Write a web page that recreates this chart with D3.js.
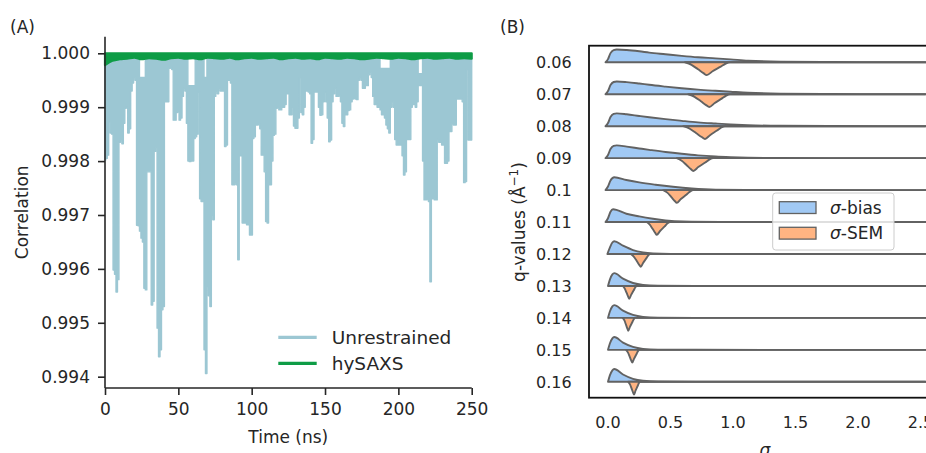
<!DOCTYPE html>
<html>
<head>
<meta charset="utf-8">
<script src="https://cdn.jsdelivr.net/npm/d3@7"></script>
<style>
  body { margin: 0; background: #fff; }
  svg { display: block; font-family: "DejaVu Sans", sans-serif; }
</style>
</head>
<body>
<script>
// ---------- panel A data ----------
// lower envelope of the unrestrained trace, one value per ns (0..250)
var unrestrainedLow = [
  0.99802, 0.99805, 0.99811, 0.99873, 0.99852, 0.99850, 0.99598, 0.99590, 0.99557, 0.99580,
  0.99835, 0.99840, 0.99832, 0.99870, 0.99898, 0.99900, 0.99852, 0.99860, 0.99930, 0.99945,
  0.99955, 0.99950, 0.99681, 0.99680, 0.99670, 0.99657, 0.99650, 0.99564, 0.99561, 0.99780,
  0.99780, 0.99780, 0.99533, 0.99540, 0.99818, 0.99825, 0.99490, 0.99437, 0.99450, 0.99524,
  0.99530, 0.99910, 0.99910, 0.99910, 0.99972, 0.99975, 0.99970, 0.99876, 0.99876, 0.99890,
  0.99892, 0.99876, 0.99880, 0.99920, 0.99935, 0.99930, 0.99870, 0.99800, 0.99799, 0.99800,
  0.99800, 0.99842, 0.99845, 0.99850, 0.99928, 0.99730, 0.99725, 0.99725, 0.99450, 0.99406,
  0.99567, 0.99550, 0.99530, 0.99700, 0.99691, 0.99920, 0.99930, 0.99925, 0.99935, 0.99930,
  0.99930, 0.99930, 0.99827, 0.99830, 0.99950, 0.99950, 0.99945, 0.99756, 0.99756, 0.99760,
  0.99756, 0.99617, 0.99810, 0.99810, 0.99685, 0.99685, 0.99685, 0.99682, 0.99682, 0.99663,
  0.99663, 0.99842, 0.99845, 0.99867, 0.99867, 0.99870, 0.99860, 0.99811, 0.99811, 0.99780,
  0.99688, 0.99685, 0.99756, 0.99756, 0.99800, 0.99848, 0.99850, 0.99898, 0.99900, 0.99895,
  0.99895, 0.99900, 0.99900, 0.99905, 0.99925, 0.99925, 0.99886, 0.99886, 0.99900, 0.99865,
  0.99861, 0.99861, 0.99880, 0.99955, 0.99890, 0.99886, 0.99900, 0.99930, 0.99930, 0.99928,
  0.99925, 0.99833, 0.99840, 0.99928, 0.99928, 0.99928, 0.99900, 0.99885, 0.99886, 0.99910,
  0.99928, 0.99910, 0.99880, 0.99836, 0.99839, 0.99910, 0.99925, 0.99935, 0.99920, 0.99920,
  0.99922, 0.99910, 0.99870, 0.99864, 0.99886, 0.99886, 0.99894, 0.99895, 0.99910, 0.99915,
  0.99917, 0.99915, 0.99914, 0.99950, 0.99955, 0.99950, 0.99935, 0.99935, 0.99940, 0.99940,
  0.99960, 0.99965, 0.99955, 0.99920, 0.99905, 0.99905, 0.99900, 0.99900, 0.99895, 0.99886,
  0.99886, 0.99880, 0.99867, 0.99860, 0.99852, 0.99900, 0.99910, 0.99900, 0.99840, 0.99830,
  0.99830, 0.99830, 0.99830, 0.99810, 0.99774, 0.99780, 0.99840, 0.99840, 0.99840, 0.99900,
  0.99905, 0.99905, 0.99900, 0.99910, 0.99940, 0.99940, 0.99940, 0.99800, 0.99728, 0.99728,
  0.99730, 0.99725, 0.99576, 0.99730, 0.99730, 0.99728, 0.99728, 0.99840, 0.99835, 0.99835,
  0.99830, 0.99830, 0.99796, 0.99796, 0.99800, 0.99855, 0.99855, 0.99870, 0.99867, 0.99867,
  0.99915, 0.99915, 0.99915, 0.99915, 0.99910, 0.99760, 0.99762, 0.99970, 0.99839, 0.99839, 0.99839
];
var unrestrainedTop = 0.99991;
// stretches where the upper edge of the trace drops: [from ns, to ns, value]
var unrestrainedGaps = [[24, 27, 0.99955], [57, 61, 0.99940], [68, 69, 0.99955], [188, 194, 0.99972], [214, 216, 0.99962]];

// hySAXS lower envelope, one value per 5 ns
var hysaxsLow = [
  0.99978, 0.99986, 0.99989, 0.99990, 0.99992, 0.99989, 0.99991, 0.99990, 0.99988, 0.99991,
  0.99992, 0.99990, 0.99991, 0.99989, 0.99992, 0.99991, 0.99990, 0.99992, 0.99989, 0.99991,
  0.99992, 0.99990, 0.99991, 0.99992, 0.99989, 0.99991, 0.99992, 0.99990, 0.99991, 0.99989,
  0.99992, 0.99991, 0.99990, 0.99992, 0.99991, 0.99989, 0.99990, 0.99992, 0.99991, 0.99990,
  0.99992, 0.99991, 0.99989, 0.99991, 0.99992, 0.99990, 0.99991, 0.99992, 0.99990, 0.99991, 0.99990
];
var hysaxsTop = 1.00000;

var timeTicks = [0, 50, 100, 150, 200, 250];
var corrTicks = [0.994, 0.995, 0.996, 0.997, 0.998, 0.999, 1.000];
var seriesNames = ["Unrestrained", "hySAXS"];

// ---------- panel B data ----------
var qLabels = ["0.06", "0.07", "0.08", "0.09", "0.1", "0.11", "0.12", "0.13", "0.14", "0.15", "0.16"];
// sigma-bias density profiles [sigma, relative density]
var biasProfiles = [
  [[-0.02,0],[0,0.25],[0.02,0.72],[0.045,0.96],[0.07,1],[0.15,0.96],[0.25,0.86],[0.33,0.76],[0.46,0.63],[0.59,0.5],[0.72,0.39],[0.86,0.31],[0.98,0.23],[1.12,0.13],[1.38,0.05],[1.8,0.02],[2.2,0.008],[2.54,0]],
  [[-0.02,0],[0,0.25],[0.02,0.72],[0.045,0.96],[0.07,1],[0.15,0.95],[0.25,0.84],[0.33,0.74],[0.46,0.6],[0.59,0.47],[0.72,0.36],[0.86,0.27],[0.98,0.2],[1.12,0.12],[1.38,0.05],[1.8,0.02],[2.2,0.008],[2.54,0]],
  [[-0.02,0],[0,0.25],[0.02,0.72],[0.045,0.96],[0.07,1],[0.15,0.93],[0.25,0.8],[0.33,0.7],[0.46,0.55],[0.59,0.42],[0.72,0.3],[0.86,0.21],[0.98,0.14],[1.12,0.08],[1.38,0.03],[1.8,0.01],[2.54,0]],
  [[-0.02,0],[0,0.25],[0.02,0.72],[0.045,0.96],[0.07,1],[0.15,0.9],[0.25,0.76],[0.33,0.65],[0.46,0.48],[0.59,0.34],[0.72,0.22],[0.86,0.13],[0.98,0.08],[1.12,0.04],[1.38,0.015],[1.8,0.005],[2.54,0]],
  [[-0.02,0],[0,0.28],[0.02,0.75],[0.05,1],[0.147,0.79],[0.25,0.6],[0.38,0.42],[0.52,0.26],[0.67,0.13],[0.86,0.04],[1.2,0.01],[1.6,0.003],[2.54,0]],
  [[-0.02,0],[0,0.3],[0.02,0.8],[0.04,1],[0.147,0.65],[0.25,0.44],[0.36,0.26],[0.46,0.13],[0.6,0.04],[0.9,0.01],[1.4,0.002],[2.54,0]],
  [[-0.005,0],[0.015,0.5],[0.035,0.9],[0.05,1],[0.12,0.65],[0.2,0.31],[0.28,0.13],[0.36,0.05],[0.5,0.01],[0.9,0.002],[2.54,0]],
  [[0,0],[0.015,0.5],[0.035,0.9],[0.05,1],[0.12,0.57],[0.2,0.23],[0.28,0.08],[0.4,0.02],[0.7,0.003],[2.54,0]],
  [[0,0],[0.015,0.5],[0.035,0.9],[0.05,1],[0.12,0.57],[0.2,0.23],[0.28,0.08],[0.4,0.02],[0.7,0.003],[2.54,0]],
  [[0,0],[0.015,0.5],[0.035,0.9],[0.05,1],[0.12,0.57],[0.2,0.23],[0.28,0.08],[0.4,0.02],[0.7,0.003],[2.54,0]],
  [[0,0],[0.015,0.5],[0.035,0.9],[0.05,1],[0.12,0.57],[0.2,0.23],[0.28,0.08],[0.4,0.02],[0.7,0.003],[2.54,0]]
];
// sigma-SEM: left foot, peak, right foot per q
var semLeft  = [0.616, 0.642, 0.602, 0.55, 0.442, 0.31, 0.182, 0.118, 0.118, 0.144, 0.162];
var semPeak  = [0.79, 0.81, 0.776, 0.682, 0.55, 0.39, 0.262, 0.17, 0.162, 0.194, 0.208];
var semRight = [0.976, 0.976, 0.936, 0.842, 0.682, 0.496, 0.336, 0.23, 0.216, 0.25, 0.256];
// common SEM outline: [fraction of left/right span, relative density]
var semShape = [[-1,0],[-0.7,0.2],[-0.4,0.55],[-0.15,0.85],[0,1],[0.25,0.7],[0.6,0.34],[0.8,0.12],[1,0]];
var sigmaTicks = [0.0, 0.5, 1.0, 1.5, 2.0, 2.5];

var W = 926, H = 453;
var ink = "#262626";
var blueLine = "#9cc7d3", greenLine = "#0e9c46";
var biasFill = "#a1c9f4", semFill = "#ffb482", violinEdge = "#626262";

var svg = d3.select("body").append("svg").attr("width", W).attr("height", H);

// ================= panel A =================
var x = d3.scaleLinear().domain([0, 250]).range([105, 471.7]);
var y = d3.scaleLinear().domain([0.99379, 1.000308]).range([388, 36.7]);

var gA = svg.append("g");

var unrestrainedHigh = unrestrainedLow.map(function(v, i) {
  var h = unrestrainedTop;
  unrestrainedGaps.forEach(function(g) { if (i >= g[0] && i <= g[1]) h = g[2]; });
  return h;
});

// dense trace: drawn as its envelope, with step edges like the packed line
var areaU = d3.area()
  .x(function(d, i) { return x(i); })
  .y0(function(d, i) { return y(unrestrainedHigh[i]); })
  .y1(function(d) { return y(d); })
  .curve(d3.curveStep);

gA.append("path")
  .datum(unrestrainedLow)
  .attr("d", areaU)
  .attr("fill", blueLine)
  .attr("stroke", blueLine)
  .attr("stroke-width", 1.4)
  .attr("stroke-linejoin", "round");

var areaH = d3.area()
  .x(function(d, i) { return x(i * 5); })
  .y0(y(hysaxsTop))
  .y1(function(d) { return y(d); })
  .curve(d3.curveMonotoneX);

gA.append("path")
  .datum(hysaxsLow)
  .attr("d", areaH)
  .attr("fill", greenLine)
  .attr("stroke", greenLine)
  .attr("stroke-width", 2.2)
  .attr("stroke-linejoin", "round");

// axes
var xAxis = d3.axisBottom(x).tickValues(timeTicks).tickSize(7).tickPadding(8).tickFormat(d3.format("d"));
var yAxis = d3.axisLeft(y).tickValues(corrTicks).tickSize(7).tickPadding(8).tickFormat(d3.format(".3f"));

var gx = gA.append("g").attr("transform", "translate(0,388)").call(xAxis);
var gy = gA.append("g").attr("transform", "translate(105,0)").call(yAxis);
[gx, gy].forEach(function(g) {
  g.select(".domain").attr("stroke", ink).attr("stroke-width", 1.6);
  g.selectAll(".tick line").attr("stroke", ink).attr("stroke-width", 1.6);
  g.selectAll(".tick text").attr("fill", ink).style("font-size", "17px").style("font-family", "DejaVu Sans");
});
gx.select(".domain").attr("d", "M105,0H471.7");
gy.select(".domain").attr("d", "M0,36.7V388");

gA.append("text").attr("x", 288.3).attr("y", 443).attr("text-anchor", "middle")
  .attr("fill", ink).style("font-size", "17px").text("Time (ns)");
gA.append("text").attr("transform", "translate(28,212.3) rotate(-90)").attr("text-anchor", "middle")
  .attr("fill", ink).style("font-size", "17px").text("Correlation");
gA.append("text").attr("x", 10).attr("y", 33).attr("fill", ink).style("font-size", "17px").text("(A)");

// legend A
var legA = gA.append("g");
seriesNames.forEach(function(name, i) {
  var ly = 337.3 + i * 26;
  legA.append("line").attr("x1", 278.3).attr("x2", 316.7).attr("y1", ly).attr("y2", ly)
    .attr("stroke", i === 0 ? blueLine : greenLine).attr("stroke-width", 3.2);
  legA.append("text").attr("x", 331.7).attr("y", ly).attr("dy", "0.36em")
    .attr("fill", ink).style("font-size", "18.5px").text(name);
});

// ================= panel B =================
var gB = svg.append("g");
var sx = d3.scaleLinear().domain([0, 1]).range([608, 733]);
var rows = d3.scalePoint().domain(qLabels).range([62.3, 381.8]);
var hw = rows.step() * 0.4;

gB.append("rect").attr("x", 589).attr("y", 45.7).attr("width", 360).attr("height", 352)
  .attr("fill", "none").attr("stroke", "#111").attr("stroke-width", 1.8);

var halfArea = function(base, sign) {
  return d3.area()
    .x(function(d) { return sx(d[0]); })
    .y0(base)
    .y1(function(d) { return base + sign * d[1] * hw; })
    .curve(d3.curveMonotoneX);
};

qLabels.forEach(function(q, i) {
  var base = rows(q);
  gB.append("path").datum(biasProfiles[i]).attr("d", halfArea(base, -1))
    .attr("fill", biasFill).attr("stroke", violinEdge).attr("stroke-width", 1.9).attr("stroke-linejoin", "round");
  var sem = semShape.map(function(s) {
    var sg = s[0] < 0 ? semPeak[i] + s[0] * (semPeak[i] - semLeft[i]) : semPeak[i] + s[0] * (semRight[i] - semPeak[i]);
    return [sg, s[1]];
  });
  // the flat tail of the outline continues out to the right edge
  sem.push([2.54, 0]);
  gB.append("path").datum(sem).attr("d", halfArea(base, 1))
    .attr("fill", semFill).attr("stroke", violinEdge).attr("stroke-width", 1.9).attr("stroke-linejoin", "round");
});

// tick labels (no tick marks)
qLabels.forEach(function(q) {
  gB.append("text").attr("x", 571.7).attr("y", rows(q)).attr("dy", "0.36em").attr("text-anchor", "end")
    .attr("fill", ink).style("font-size", "16px").text(q);
});
sigmaTicks.forEach(function(s) {
  gB.append("text").attr("x", sx(s)).attr("y", 428).attr("text-anchor", "middle")
    .attr("fill", ink).style("font-size", "16px").text(s.toFixed(1));
});

gB.append("text").attr("x", 765).attr("y", 456).attr("text-anchor", "middle")
  .attr("fill", ink).style("font-size", "17px").style("font-style", "italic").text("σ");

var yl = gB.append("text").attr("transform", "translate(525,222) rotate(-90)").attr("text-anchor", "middle")
  .attr("fill", ink).style("font-size", "17px");
yl.append("tspan").text("q-values (Å");
yl.append("tspan").attr("dy", -7).style("font-size", "12px").text("−1");
yl.append("tspan").attr("dy", 7).text(")");

gB.append("text").attr("x", 500).attr("y", 33).attr("fill", ink).style("font-size", "17px").text("(B)");

// legend B
var legB = gB.append("g");
legB.append("rect").attr("x", 772.7).attr("y", 193).attr("width", 121.3).attr("height", 57).attr("rx", 3)
  .attr("fill", "#fff").attr("fill-opacity", 0.8).attr("stroke", "#cccccc").attr("stroke-width", 1);
[["bias", biasFill], ["SEM", semFill]].forEach(function(e, i) {
  var ty = 201.7 + i * 25.6;
  legB.append("rect").attr("x", 779.3).attr("y", ty).attr("width", 36.7).attr("height", 11.8)
    .attr("fill", e[1]).attr("stroke", violinEdge).attr("stroke-width", 1.3);
  var t = legB.append("text").attr("x", 830).attr("y", ty + 5.9).attr("dy", "0.36em")
    .attr("fill", ink).style("font-size", "17px");
  t.append("tspan").style("font-style", "italic").text("σ");
  t.append("tspan").text("-" + e[0]);
});
</script>
</body>
</html>
